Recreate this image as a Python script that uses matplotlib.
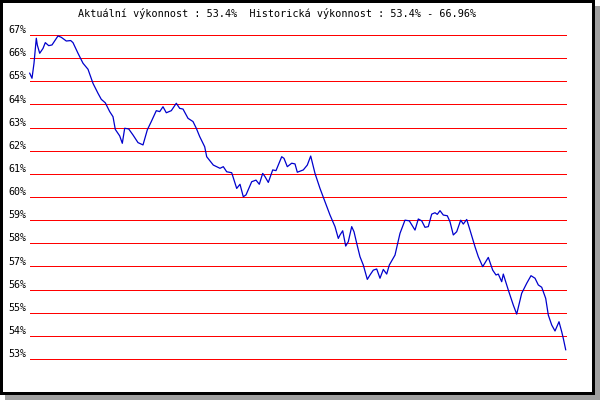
import matplotlib
matplotlib.use("Agg")
import matplotlib.pyplot as plt
from matplotlib.patches import Rectangle

# horizontal position along the period (screen-like units) and performance in %
t = [29.7, 32.0, 34.0, 36.3, 37.3, 39.7, 43.0, 45.3, 48.7, 52.0, 58.0, 61.3, 66.3, 70.7,
     73.0, 78.0, 83.0, 88.0, 93.0, 98.0, 101.3, 105.3, 109.7, 113.0, 115.3, 119.7, 122.3,
     124.7, 128.7, 133.0, 138.0, 143.0, 147.3, 151.3, 156.3, 159.7, 163.0, 166.3, 171.3,
     176.3, 179.7, 183.0, 188.0, 193.0, 196.3, 199.7, 204.7, 206.7, 213.3, 220.0, 223.3,
     226.7, 231.7, 236.7, 240.0, 243.3, 246.0, 251.7, 256.0, 259.3, 262.7, 265.0, 268.3,
     272.7, 276.0, 281.7, 284.0, 287.3, 291.7, 295.0, 297.3, 303.3, 307.3, 310.7, 315.0,
     320.0, 325.0, 330.0, 335.0, 338.3, 340.0, 342.7, 345.7, 348.3, 351.7, 354.0, 356.7,
     360.0, 363.3, 367.3, 370.0, 373.3, 376.7, 380.0, 383.3, 386.7, 389.3, 395.0, 400.0,
     405.0, 409.3, 415.0, 418.3, 421.7, 425.0, 428.3, 431.7, 435.0, 437.3, 440.0, 443.3,
     447.3, 450.0, 453.3, 456.7, 460.7, 463.3, 466.7, 470.0, 475.0, 478.3, 482.7, 488.3,
     492.7, 496.0, 498.3, 501.7, 503.3, 508.3, 513.3, 516.7, 521.7, 526.7, 531.0, 535.0,
     538.3, 541.7, 545.7, 548.3, 551.7, 555.0, 559.0, 561.7, 563.3, 565.7]
vykon = [65.35, 65.13, 65.78, 66.86, 66.57, 66.21, 66.42, 66.67, 66.54, 66.57, 66.96, 66.90,
         66.74, 66.76, 66.67, 66.21, 65.78, 65.52, 64.91, 64.48, 64.22, 64.07, 63.69, 63.47,
         62.92, 62.64, 62.32, 62.97, 62.94, 62.68, 62.35, 62.25, 62.90, 63.26, 63.73, 63.69,
         63.90, 63.64, 63.73, 64.05, 63.83, 63.80, 63.40, 63.26, 62.97, 62.61, 62.17, 61.74,
         61.38, 61.24, 61.31, 61.09, 61.05, 60.37, 60.55, 60.01, 60.09, 60.66, 60.73, 60.55,
         61.02, 60.88, 60.63, 61.17, 61.14, 61.74, 61.67, 61.31, 61.46, 61.43, 61.07, 61.17,
         61.38, 61.77, 61.02, 60.37, 59.80, 59.22, 58.72, 58.21, 58.36, 58.54, 57.88, 58.07,
         58.72, 58.50, 58.00, 57.42, 57.06, 56.44, 56.63, 56.84, 56.89, 56.49, 56.87, 56.67,
         57.06, 57.49, 58.43, 59.00, 58.97, 58.57, 59.05, 58.97, 58.69, 58.72, 59.26, 59.32,
         59.25, 59.41, 59.22, 59.19, 58.93, 58.36, 58.50, 59.00, 58.83, 59.03, 58.57, 57.85,
         57.42, 56.99, 57.39, 56.84, 56.63, 56.67, 56.34, 56.67, 55.98, 55.33, 54.94, 55.84,
         56.27, 56.60, 56.49, 56.20, 56.10, 55.62, 54.90, 54.47, 54.21, 54.61, 54.18, 53.89,
         53.40]
levels = list(range(53, 68))
labels = [f"{v}%" for v in levels]
title = "Aktuální výkonnost : 53.4%  Historická výkonnost : 53.4% - 66.96%"

W, H = 600, 400
fig = plt.figure(figsize=(6, 4), dpi=100, facecolor="white")

# framed box with grey drop shadow
fig.patches.append(Rectangle((5 / W, 0), 595 / W, 394 / H, transform=fig.transFigure,
                             facecolor="#a0a0a0", edgecolor="none", zorder=-3))
fig.patches.append(Rectangle((0, 5 / H), 595 / W, 395 / H, transform=fig.transFigure,
                             facecolor="black", edgecolor="none", zorder=-2))
fig.patches.append(Rectangle((3 / W, 8 / H), 589 / W, 389 / H, transform=fig.transFigure,
                             facecolor="white", edgecolor="none", zorder=-1))

ax = fig.add_axes([29.5 / W, (H - 359) / H, 536.5 / W, 324 / H])
ax.set_zorder(2)
ax.set_facecolor("none")
ax.set_xlim(29.5, 566)
ax.set_ylim(53, 67)
for s in ax.spines.values():
    s.set_visible(False)
ax.set_xticks([])
ax.set_yticks([])

ax.hlines(levels, 29.5, 566, colors="#ff0000", linewidth=0.72, antialiased=False,
          zorder=1, clip_on=False)
ax.plot(t, vykon, color="#0000cc", linewidth=0.9, zorder=2, clip_on=False)

for v, lab in zip(levels, labels):
    ax.annotate(lab, xy=(0, v), xycoords=("axes fraction", "data"),
                xytext=(-3.5, 1.8), textcoords="offset pixels",
                ha="right", va="baseline", family="DejaVu Sans Mono", fontsize=7.2)

fig.text(277 / W, 1 - 17.3 / H, title, ha="center", va="baseline",
         family="DejaVu Sans Mono", fontsize=7.25, zorder=3)

fig.savefig("out.png", dpi=100)
